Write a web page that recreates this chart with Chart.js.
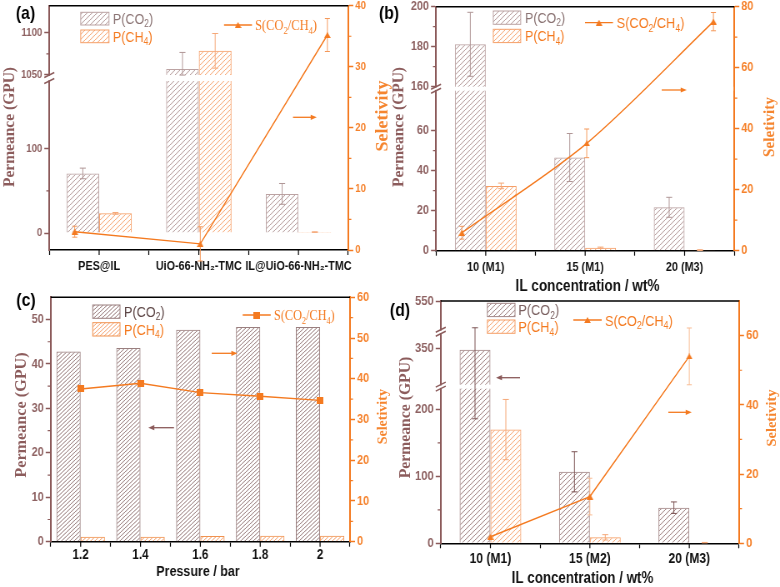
<!DOCTYPE html>
<html>
<head>
<meta charset="utf-8">
<title>Permeance and selectivity</title>
<script src="https://cdn.jsdelivr.net/npm/chart.js@4.4.1/dist/chart.umd.min.js"></script>
<style>
  body { margin: 0; background: #fff; }
  #wrap { position: relative; width: 780px; height: 587px; overflow: hidden; background: #fff; }
  #wrap canvas { position: absolute; left: 0; top: 0; }
</style>
</head>
<body>
<div id="wrap">
  <canvas id="chartA" width="936" height="587" style="width:780px;height:587px"></canvas>
  <canvas id="chartB" width="936" height="587" style="width:780px;height:587px"></canvas>
  <canvas id="chartC" width="936" height="587" style="width:780px;height:587px"></canvas>
  <canvas id="chartD" width="936" height="587" style="width:780px;height:587px"></canvas>
</div>
<script>
// canvases are drawn 1.2x wider and squeezed back, which gives the narrow lettering of the original
const SX = 936 / 780;
const SANS = "'Liberation Sans', Arial, sans-serif";
const SERIF = "'Liberation Serif', 'Times New Roman', serif";
const ORANGE = '#f47a20';
const BROWN = '#8b5a5a';

// (a) membranes
const catA = ['PES@IL', 'UiO-66-NH₂-TMC', 'IL@UiO-66-NH₂-TMC'];
const co2A = [70.6, 1057, 46.4];
const co2ErrA = [6.3, 19.7, 12.3];
const ch4A = [23.4, 1078.6, 1.2];
const ch4ErrA = [1.0, 20.5, 0.3];
const selA = [3.0, 1.0, 35.2];
const selErrA = [0.9, 2.8, 2.7];
const selPosA = [-0.245, 1.015, 2.29];   // category units, markers sit off-centre in the original
const permTicksA = [0, 100, 1050, 1100];
const selTicksA = [0, 10, 20, 30, 40];

// (b) IL loading
const catB = ['10 (M1)', '15 (M1)', '20 (M3)'];
const co2B = [181.2, 46.6, 21.7];
const co2ErrB = [16, 12, 5];
const ch4B = [32.4, 1.5, 0.3];
const ch4ErrB = [1.4, 0.3, 0.2];
const selB = [5.9, 35.2, 75.1];
const selErrB = [2.1, 4.7, 3.0];
const selPosB = [-0.24, 1.016, 2.29];
const permTicksB = [0, 20, 40, 60, 160, 180, 200];
const selTicksB = [0, 20, 40, 60, 80];

// (c) feed pressure
const catC = ['1.2', '1.4', '1.6', '1.8', '2'];
const co2C = [42.8, 43.6, 47.7, 48.3, 48.3];
const ch4C = [1.1, 1.1, 1.3, 1.35, 1.35];
const selC = [37.5, 38.9, 36.6, 35.7, 34.7];
const permTicksC = [0, 10, 20, 30, 40, 50];
const selTicksC = [0, 10, 20, 30, 40, 50, 60];

// (d) IL loading, second series
const catD = ['10 (M1)', '15 (M2)', '20 (M3)'];
const co2D = [348, 106.8, 53.2];
const co2ErrD = [162, 30, 8.6];
const ch4D = [169.9, 8.9, 1.0];
const ch4ErrD = [45, 4, 0.3];
const selD = [1.9, 13.5, 54.0];
const selErrD = [0, 5.3, 8.2];
const permTicksD = [0, 100, 200, 350, 550];
const selTicksD = [0, 20, 40, 60];

Chart.defaults.animation = false;
Chart.defaults.font.family = SANS;

// linear axis with cut-out ranges (broken axis)
class BrokenScale extends Chart.LinearScale {
  getPixelForValue(value) {
    const segs = this.options.segments;
    if (!segs) return super.getPixelForValue(value);
    const gap = this.options.gapPx || 4;
    let total = 0;
    segs.forEach(s => { total += s[1] - s[0]; });
    const k = (this._length - gap * (segs.length - 1)) / total;
    let off = 0;
    for (let i = 0; i < segs.length; i++) {
      const a = segs[i][0], b = segs[i][1];
      if (value < a && i > 0) {
        const pb = segs[i - 1][1];
        return this.getPixelForDecimal((off - gap + gap * (value - pb) / (a - pb)) / this._length);
      }
      if (value <= b || i === segs.length - 1) {
        return this.getPixelForDecimal((off + (value - a) * k) / this._length);
      }
      off += (b - a) * k + gap;
    }
  }
}
BrokenScale.id = 'broken';
Chart.register(BrokenScale);

function segOf(segs, v) {
  if (!segs) return 0;
  return segs.findIndex(s => v >= s[0] && v <= s[1]);
}

function hatch(color, w, h) {
  const c = document.createElement('canvas');
  c.width = w; c.height = h;
  const g = c.getContext('2d');
  g.strokeStyle = color;
  g.lineWidth = 1;
  g.beginPath();
  for (let k = -1; k <= 1; k++) {
    g.moveTo(k * w, h);
    g.lineTo(k * w + w, 0);
  }
  g.stroke();
  return g.createPattern(c, 'repeat');
}

function marker(kind) {
  const c = document.createElement('canvas');
  c.width = 8; c.height = kind === 'tri' ? 6 : 7;
  const g = c.getContext('2d');
  g.fillStyle = ORANGE;
  if (kind === 'tri') {
    g.beginPath(); g.moveTo(4, 0); g.lineTo(8, 6); g.lineTo(0, 6); g.closePath(); g.fill();
  } else {
    g.fillRect(0, 0, 8, 7);
  }
  return c;
}

function rich(ctx, x, y, parts, size, family, color) {
  ctx.fillStyle = color;
  ctx.textAlign = 'left';
  ctx.textBaseline = 'alphabetic';
  parts.forEach(([t, sub]) => {
    const fs = sub ? size * 0.68 : size;
    ctx.font = `${fs}px ${family}`;
    ctx.fillText(t, x, sub ? y + size * 0.22 : y);
    x += ctx.measureText(t).width;
  });
}

function vtext(ctx, text, x, y, size, color) {
  ctx.save();
  ctx.translate(x, y);
  ctx.scale(SX, 1);
  ctx.rotate(-Math.PI / 2);
  ctx.font = `bold ${size}px ${SERIF}`;
  ctx.fillStyle = color;
  ctx.textAlign = 'center';
  ctx.textBaseline = 'middle';
  ctx.fillText(text, 0, 0);
  ctx.restore();
}

function errorBars(ctx, chart) {
  chart.data.datasets.forEach((ds, di) => {
    if (!ds.err) return;
    const meta = chart.getDatasetMeta(di);
    const sc = chart.scales[meta.yAxisID];
    const w = (ds.type === 'line' ? 2.5 : 3) * SX;
    ctx.strokeStyle = ds.errColor;
    ctx.lineWidth = 1;
    meta.data.forEach((el, i) => {
      const e = ds.err[i];
      if (!e) return;
      const raw = ds.data[i];
      const v = typeof raw === 'object' ? raw.y : raw;
      const t = sc.getPixelForValue(v + e), b = sc.getPixelForValue(v - e);
      ctx.beginPath();
      ctx.moveTo(el.x, t); ctx.lineTo(el.x, b);
      ctx.moveTo(el.x - w, t); ctx.lineTo(el.x + w, t);
      ctx.moveTo(el.x - w, b); ctx.lineTo(el.x + w, b);
      ctx.stroke();
    });
  });
}

function minorTicks(ctx, sc, ticks, segs, x, dir, color) {
  ctx.strokeStyle = color;
  ctx.lineWidth = 1.2;
  ctx.beginPath();
  for (let i = 0; i < ticks.length - 1; i++) {
    if (segOf(segs, ticks[i]) !== segOf(segs, ticks[i + 1])) continue;
    const y = sc.getPixelForValue((ticks[i] + ticks[i + 1]) / 2);
    ctx.moveTo(x, y); ctx.lineTo(x + dir * 3 * SX, y);
  }
  ctx.stroke();
}

function extras(p) {
  const X = v => (p.ox + v) * SX;
  const Y = v => p.oy + v;
  return {
    id: 'extras',
    beforeDatasetDraw(chart, args) {
      if (args.meta.type !== 'line') return;
      const ctx = chart.ctx, ca = chart.chartArea, yl = chart.scales.y;
      const segs = yl.options.segments;
      ctx.save();
      if (segs) {
        for (let i = 0; i < segs.length - 1; i++) {
          const y1 = yl.getPixelForValue(segs[i][1]), y2 = yl.getPixelForValue(segs[i + 1][0]);
          ctx.fillStyle = '#fff';
          ctx.fillRect(ca.left + 1, y2, ca.width - 2, y1 - y2);
        }
      }
      errorBars(ctx, chart);
      ctx.restore();
    },
    afterDraw(chart) {
      const ctx = chart.ctx, ca = chart.chartArea, yl = chart.scales.y, xs = chart.scales.x;
      ctx.save();
      // frame top
      ctx.strokeStyle = '#000';
      ctx.lineWidth = 1.5;
      ctx.beginPath(); ctx.moveTo(ca.left, ca.top); ctx.lineTo(ca.right, ca.top); ctx.stroke();
      // ticks at category centres
      ctx.lineWidth = 1.2;
      ctx.beginPath();
      p.cats.forEach((c, i) => {
        const x = xs.getPixelForValue(i);
        ctx.moveTo(x, ca.bottom); ctx.lineTo(x, ca.bottom + 5);
      });
      ctx.stroke();
      const segs = yl.options.segments;
      minorTicks(ctx, yl, p.permTicks, segs, ca.left, -1, BROWN);
      minorTicks(ctx, chart.scales.y1, p.selTicks, null, ca.right, 1, ORANGE);
      // axis break marks
      if (segs) {
        for (let i = 0; i < segs.length - 1; i++) {
          const y1 = yl.getPixelForValue(segs[i][1]), y2 = yl.getPixelForValue(segs[i + 1][0]);
          ctx.fillStyle = '#fff';
          ctx.fillRect(ca.left - 3 * SX, y2 + 0.8, 6 * SX, y1 - y2 - 1.6);
          ctx.strokeStyle = BROWN;
          ctx.lineWidth = 1.5;
          ctx.beginPath();
          [y1, y2].forEach(yy => {
            ctx.moveTo(ca.left - 5 * SX, yy + 2.5);
            ctx.lineTo(ca.left + 5 * SX, yy - 2.5);
          });
          ctx.stroke();
        }
      }
      // legend
      const L = p.legend;
      const bars = [
        [p.co2Fill, p.co2Border, 'CO', '2', p.co2Text],
        [p.ch4Fill, p.ch4Border, 'CH', '4', ORANGE]
      ];
      bars.forEach(([fill, bord, gas, sub, col], i) => {
        const y0 = L.by[i];
        ctx.fillStyle = fill;
        ctx.fillRect(X(L.bx), Y(y0), L.bw * SX, L.bh);
        ctx.strokeStyle = bord;
        ctx.lineWidth = 1;
        ctx.strokeRect(X(L.bx), Y(y0), L.bw * SX, L.bh);
        rich(ctx, X(L.tx), Y(y0 + L.bh / 2) + 0.36 * L.fs, [['P(' + gas], [sub, 1], [')']], L.fs, SANS, col);
      });
      ctx.strokeStyle = ORANGE;
      ctx.lineWidth = 1.3;
      ctx.beginPath(); ctx.moveTo(X(L.sx[0]), Y(L.sy)); ctx.lineTo(X(L.sx[1]), Y(L.sy)); ctx.stroke();
      const mk = p.markerImg;
      ctx.drawImage(mk, X((L.sx[0] + L.sx[1]) / 2) - mk.width / 2, Y(L.sy) - mk.height / 2);
      rich(ctx, X(L.stx), Y(L.sy) + 0.36 * L.sfs, [['S(CO'], ['2', 1], ['/CH'], ['4', 1], [')']],
        L.sfs, L.serif ? SERIF : SANS, ORANGE);
      // arrows
      p.arrows.forEach(ar => {
        const dir = Math.sign(ar.x2 - ar.x1), hx = X(ar.x2), y = Y(ar.y);
        ctx.strokeStyle = ar.c; ctx.fillStyle = ar.c; ctx.lineWidth = 1.3;
        ctx.beginPath(); ctx.moveTo(X(ar.x1), y); ctx.lineTo(hx - dir * 4 * SX, y); ctx.stroke();
        ctx.beginPath();
        ctx.moveTo(hx, y); ctx.lineTo(hx - dir * 6 * SX, y - 2.6); ctx.lineTo(hx - dir * 6 * SX, y + 2.6);
        ctx.closePath(); ctx.fill();
      });
      // titles
      const t = p.titles;
      vtext(ctx, 'Permeance (GPU)', X(t.left[0]), Y(t.left[1]), t.left[2], '#8c5c5c');
      vtext(ctx, 'Seletivity', X(t.right[0]), Y(t.right[1]), t.right[2], '#f5852f');
      if (t.x) {
        ctx.font = `bold ${t.x[2]}px ${SANS}`;
        ctx.fillStyle = '#111';
        ctx.textAlign = 'center';
        ctx.textBaseline = 'middle';
        ctx.fillText(t.x[3], X(t.x[0]), Y(t.x[1]));
      }
      ctx.font = `bold 19px ${SANS}`;
      ctx.fillStyle = '#000';
      ctx.textAlign = 'center';
      ctx.textBaseline = 'middle';
      ctx.fillText(p.label[0], X(p.label[1]), Y(p.label[2]));
      ctx.restore();
    }
  };
}

function makeChart(p) {
  const a = p.area;
  p.markerImg = marker(p.marker);
  const scales = {
    x: {
      type: 'category', offset: true,
      grid: { offset: true, drawOnChartArea: false, color: '#000', tickLength: 5, tickWidth: 1.2 },
      border: { color: '#000', width: 1.5 },
      ticks: { color: '#111', font: { family: SANS, weight: 'bold', size: p.xTick }, padding: p.xTickPad, maxRotation: 0, autoSkip: false },
      afterFit: s => { s.height = p.h - a.b; s.paddingLeft = 0; s.paddingRight = 0; }
    },
    y: {
      type: p.segments ? 'broken' : 'linear', position: 'left',
      min: p.segments ? p.segments[0][0] : p.permRange[0],
      max: p.segments ? p.segments[p.segments.length - 1][1] : p.permRange[1],
      segments: p.segments, gapPx: p.gap,
      grid: { drawOnChartArea: false, color: BROWN, tickLength: 5 * SX, tickWidth: 1.5 },
      border: { color: BROWN, width: 2 },
      ticks: { color: '#8e6262', font: { family: SANS, weight: 'bold', size: p.yTick }, padding: 2 * SX, autoSkip: false, callback: v => v },
      afterBuildTicks: s => { s.ticks = p.permTicks.map(v => ({ value: v })); },
      afterFit: s => { s.width = a.l * SX; s.paddingTop = 0; s.paddingBottom = 0; }
    },
    y1: {
      type: 'linear', position: 'right', min: 0, max: p.selMax,
      grid: { drawOnChartArea: false, color: ORANGE, tickLength: 5 * SX, tickWidth: 1.5 },
      border: { color: ORANGE, width: 2 },
      ticks: { color: '#f5822c', font: { family: SANS, weight: 'bold', size: p.yTick }, padding: 2 * SX, autoSkip: false, callback: v => v },
      afterBuildTicks: s => { s.ticks = p.selTicks.map(v => ({ value: v })); },
      afterFit: s => { s.width = (390 - a.r) * SX; s.paddingTop = 0; s.paddingBottom = 0; }
    }
  };
  // markers placed between category centres are given in category units, fed unparsed
  let lineData = p.sel;
  let parsing = true;
  if (p.selPos) {
    lineData = p.sel.map((v, i) => ({ x: p.selPos[i], y: v }));
    parsing = false;
  }
  return new Chart(document.getElementById(p.canvas), {
    type: 'bar',
    data: {
      labels: p.cats,
      datasets: [
        { type: 'bar', label: 'P(CO2)', data: p.co2, err: p.co2Err, errColor: p.co2ErrColor,
          backgroundColor: p.co2Fill, borderColor: p.co2Border, borderWidth: 1,
          categoryPercentage: p.catPct, barPercentage: 1, xAxisID: 'x', yAxisID: 'y', order: 1 },
        { type: 'bar', label: 'P(CH4)', data: p.ch4, err: p.ch4Err, errColor: p.ch4ErrColor,
          backgroundColor: p.ch4Fill, borderColor: p.ch4Border, borderWidth: 1,
          categoryPercentage: p.catPct, barPercentage: 1, xAxisID: 'x', yAxisID: 'y', order: 1 },
        { type: 'line', label: 'S(CO2/CH4)', data: lineData, parsing, err: p.selErr, errColor: p.selErrColor,
          borderColor: ORANGE, borderWidth: 1.4, tension: p.tension, fill: false,
          pointStyle: p.markerImg, pointRadius: 4, xAxisID: 'x', yAxisID: 'y1', order: 0 }
      ]
    },
    options: {
      responsive: false,
      devicePixelRatio: 1,
      events: [],
      layout: {
        autoPadding: false,
        padding: { left: p.ox * SX, right: (390 - p.ox) * SX, top: p.oy + a.t, bottom: 587 - p.oy - p.h }
      },
      plugins: { legend: { display: false }, tooltip: { enabled: false } },
      scales
    },
    plugins: [extras(p)]
  });
}

const lightCo2 = { co2Fill: hatch('#b39999', 6, 5), co2Border: '#bca3a3', co2ErrColor: '#b09696', co2Text: '#8a7373' };
const lightCh4 = { ch4Fill: hatch('#f6a673', 6, 5), ch4Border: '#f59f68', ch4ErrColor: '#f5a878' };

makeChart(Object.assign({
  canvas: 'chartA', ox: 0, oy: 0, h: 290,
  area: { l: 49.3, r: 348.3, t: 5.7, b: 250 },
  cats: catA, co2: co2A, co2Err: co2ErrA, ch4: ch4A, ch4Err: ch4ErrA, sel: selA, selErr: selErrA, selPos: selPosA,
  permTicks: permTicksA, selTicks: selTicksA, segments: [[-20, 180], [1050, 1132]], gap: 6,
  selMax: 40, tension: 0, marker: 'tri', catPct: 0.656,
  selErrColor: '#f4985a', yTick: 11.5, xTick: 13, xTickPad: 4,
  legend: { bx: 80.7, bw: 28.3, by: [12.3, 30], bh: 12.7, tx: 113, fs: 15, sx: [224, 252], sy: 25, stx: 255, sfs: 15, serif: true },
  arrows: [{ x1: 293, x2: 316.7, y: 117.3, c: ORANGE }],
  titles: { left: [10, 127, 15.5], right: [382.5, 116, 18] },
  label: ['(a)', 25.5, 14]
}, lightCo2, lightCh4));

makeChart(Object.assign({
  canvas: 'chartB', ox: 390, oy: 0, h: 290,
  area: { l: 46, r: 344.3, t: 6.7, b: 250.7 },
  cats: catB, co2: co2B, co2Err: co2ErrB, ch4: ch4B, ch4Err: ch4ErrB, sel: selB, selErr: selErrB, selPos: selPosB,
  permTicks: permTicksB, selTicks: selTicksB, segments: [[0, 80], [160, 200]], gap: 4,
  selMax: 80, tension: 0.3, marker: 'tri', catPct: 0.62,
  selErrColor: '#f4985a', yTick: 13, xTick: 13, xTickPad: 4,
  legend: { bx: 103.3, bw: 27.4, by: [11, 29.3], bh: 13.3, tx: 135, fs: 15, sx: [195, 223], sy: 22.7, stx: 226.7, sfs: 15.3, serif: false },
  arrows: [{ x1: 271.7, x2: 296.7, y: 90, c: ORANGE }],
  titles: { left: [9, 127, 15.5], right: [380, 127, 15.2], x: [197.5, 286.7, 16.3, 'IL concentration / wt%'] },
  label: ['(b)', -1, 14]
}, lightCo2, lightCh4));

makeChart({
  canvas: 'chartC', ox: 0, oy: 290, h: 297,
  area: { l: 50.7, r: 350, t: 7.3, b: 251.7 },
  cats: catC, co2: co2C, ch4: ch4C, sel: selC,
  permTicks: permTicksC, selTicks: selTicksC, permRange: [0, 55],
  selMax: 60, tension: 0, marker: 'sq', catPct: 0.81,
  co2Fill: hatch('#957878', 5, 4), co2Border: '#9a7f7f', co2Text: '#5e4747',
  ch4Fill: hatch('#f4a270', 5, 4), ch4Border: '#f0924f',
  yTick: 13, xTick: 14, xTickPad: 0,
  legend: { bx: 92.7, bw: 27.3, by: [15, 32.7], bh: 13.3, tx: 124, fs: 15.2, sx: [242.7, 270.7], sy: 25, stx: 274, sfs: 14.7, serif: true },
  arrows: [{ x1: 211.7, x2: 237.3, y: 63.3, c: ORANGE }, { x1: 174, x2: 148.3, y: 137.7, c: '#8b5a5a' }],
  titles: { left: [21.7, 125, 16.2], right: [383.3, 126.7, 14], x: [198, 281.7, 15, 'Pressure / bar'] },
  label: ['(c)', 26, 11]
});

makeChart(Object.assign({
  canvas: 'chartD', ox: 390, oy: 290, h: 297,
  area: { l: 50.7, r: 349, t: 11, b: 253.3 },
  cats: catD, co2: co2D, co2Err: co2ErrD, ch4: ch4D, ch4Err: ch4ErrD, sel: selD, selErr: selErrD,
  permTicks: permTicksD, selTicks: selTicksD, segments: [[0, 231], [296, 372], [507, 550]], gap: 4,
  selMax: 70, tension: 0, marker: 'tri', catPct: 0.62,
  co2Fill: hatch('#9e8181', 6, 5), co2Border: '#a38787', co2ErrColor: '#7d5555', co2Text: '#7a6060',
  ch4ErrColor: '#f07a2a', selErrColor: '#f8bc94',
  yTick: 13.5, xTick: 14.5, xTickPad: 2,
  legend: { bx: 97.3, bw: 27.7, by: [13.3, 30], bh: 13.3, tx: 128.3, fs: 15.3, sx: [183.3, 211.7], sy: 30, stx: 215, sfs: 15.3, serif: false },
  arrows: [{ x1: 130, x2: 106, y: 87.7, c: '#8b5a5a' }, { x1: 278.3, x2: 301.7, y: 122.3, c: ORANGE }],
  titles: { left: [16, 127.5, 15.7], right: [382, 128, 14.5], x: [192.5, 288.3, 16, 'IL concentration / wt%'] },
  label: ['(d)', 10, 20.5]
}, lightCh4));
</script>
</body>
</html>
